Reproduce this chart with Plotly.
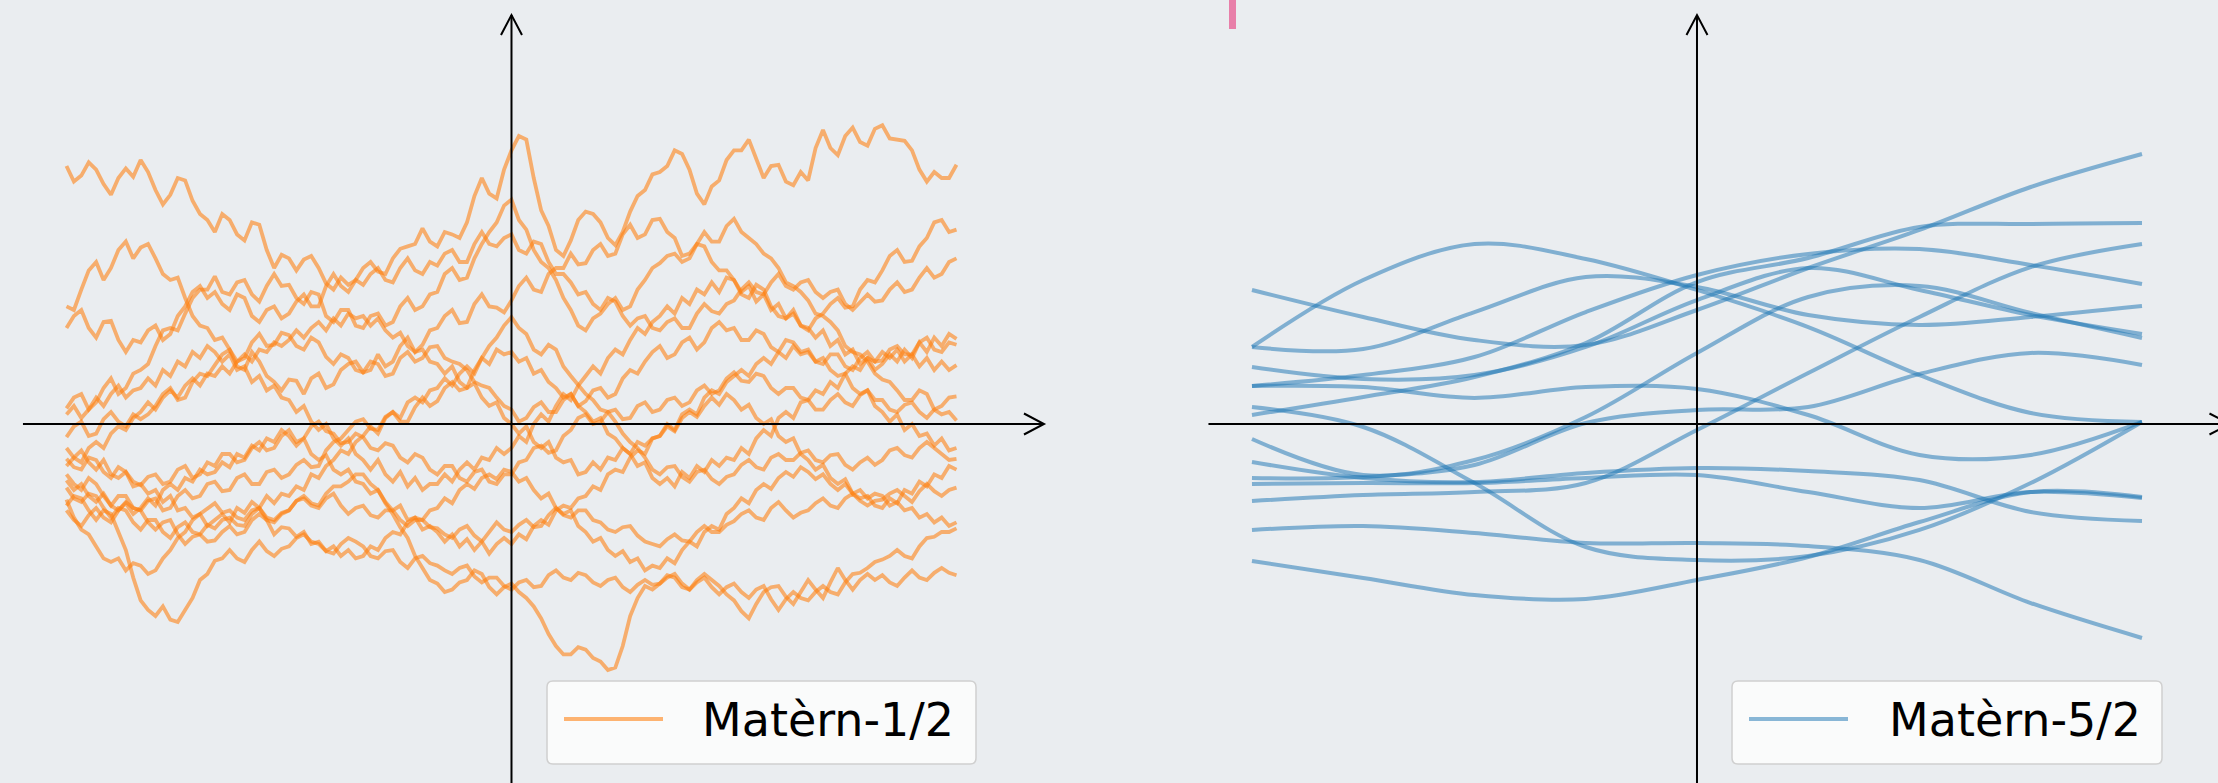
import numpy as np
import plotly.graph_objects as go

W, H = 2218, 783

# ---------------- data ----------------
# Matérn-1/2 sample paths (rough), evenly sampled on [-1, 1]
m12_p01 = [2.15, 2.02, 2.07, 2.18, 2.12, 2.0, 1.91, 2.05, 2.13, 2.06, 2.2, 2.1, 1.95, 1.83, 1.91, 2.05, 2.03, 1.86, 1.75, 1.7,
           1.6, 1.75, 1.7, 1.58, 1.53, 1.68, 1.66, 1.45, 1.3, 1.41, 1.38, 1.28, 1.37, 1.4, 1.3, 1.17, 1.12, 1.22, 1.16, 1.2,
           1.3, 1.35, 1.27, 1.25, 1.38, 1.46, 1.48, 1.5, 1.63, 1.52, 1.48, 1.6, 1.58, 1.55, 1.68, 1.9, 2.05, 1.92, 1.88, 2.12,
           2.28, 2.4, 2.37, 2.05, 1.78, 1.65, 1.45, 1.4, 1.53, 1.7, 1.77, 1.75, 1.68, 1.55, 1.49, 1.6, 1.77, 1.9, 1.95, 2.08,
           2.1, 2.15, 2.28, 2.25, 2.12, 1.92, 1.83, 1.98, 2.03, 2.2, 2.28, 2.28, 2.37, 2.2, 2.05, 2.15, 2.16, 2.02, 1.99, 2.1,
           2.03, 2.3, 2.45, 2.3, 2.24, 2.4, 2.47, 2.35, 2.32, 2.46, 2.49, 2.38, 2.37, 2.36, 2.28, 2.12, 2.02, 2.1, 2.05, 2.05, 2.16]
m12_p02 = [0.98, 0.95, 1.12, 1.28, 1.35, 1.2, 1.3, 1.45, 1.52, 1.38, 1.47, 1.5, 1.38, 1.25, 1.2, 1.22, 1.05, 0.9, 0.82, 0.8,
           0.7, 0.72, 0.62, 0.48, 0.45, 0.6, 0.52, 0.4, 0.35, 0.28, 0.37, 0.36, 0.25, 0.38, 0.42, 0.3, 0.33, 0.45, 0.5, 0.52,
           0.43, 0.45, 0.58, 0.48, 0.52, 0.65, 0.72, 0.6, 0.66, 0.78, 0.8, 0.9, 0.95, 0.84, 0.85, 1.0, 1.08, 0.98, 0.97, 0.93,
           1.03, 1.15, 1.22, 1.12, 1.1, 1.25, 1.3, 1.3, 1.42, 1.33, 1.34, 1.45, 1.5, 1.4, 1.42, 1.58, 1.66, 1.55, 1.58, 1.7,
           1.71, 1.6, 1.55, 1.4, 1.42, 1.5, 1.48, 1.35, 1.28, 1.28, 1.2, 1.08, 1.05, 1.16, 1.12, 0.98, 0.9, 0.88, 0.95, 0.82,
           0.78, 0.88, 0.92, 1.0, 1.05, 0.97, 0.98, 1.12, 1.2, 1.18, 1.28, 1.4, 1.45, 1.35, 1.36, 1.48, 1.55, 1.68, 1.7, 1.6, 1.62]
m12_p03 = [0.8, 0.9, 0.95, 0.8, 0.72, 0.85, 0.86, 0.7, 0.6, 0.7, 0.68, 0.78, 0.82, 0.7, 0.75, 0.9, 0.98, 1.1, 1.15, 1.05,
           1.1, 1.0, 0.95, 1.08, 1.05, 0.9, 0.85, 0.95, 0.98, 0.88, 0.92, 1.02, 1.08, 0.98, 0.98, 1.15, 1.25, 1.15, 1.1, 1.2,
           1.16, 1.25, 1.3, 1.2, 1.18, 1.3, 1.38, 1.28, 1.25, 1.35, 1.32, 1.42, 1.45, 1.35, 1.35, 1.5, 1.6, 1.5, 1.48, 1.55,
           1.58, 1.45, 1.42, 1.52, 1.5, 1.35, 1.25, 1.25, 1.18, 1.08, 1.1, 1.0, 0.95, 1.05, 1.02, 0.9, 0.82, 0.88, 0.9, 0.8,
           0.78, 0.85, 0.88, 0.8, 0.8, 0.92, 1.0, 0.94, 0.92, 1.0, 1.03, 1.12, 1.18, 1.1, 1.08, 1.18, 1.25, 1.15, 1.12, 1.18,
           1.2, 1.1, 1.05, 1.1, 1.12, 1.0, 0.95, 1.02, 1.08, 1.02, 1.03, 1.12, 1.18, 1.1, 1.12, 1.22, 1.3, 1.22, 1.25, 1.35, 1.38]
m12_p04 = [0.13, 0.22, 0.25, 0.12, 0.18, 0.3, 0.38, 0.25, 0.3, 0.42, 0.45, 0.5, 0.65, 0.78, 0.8, 0.78, 0.92, 1.05, 1.12, 1.12,
           1.23, 1.1, 1.08, 1.18, 1.2, 1.08, 1.02, 1.15, 1.25, 1.15, 1.16, 1.05, 1.0, 1.1, 1.08, 0.9, 0.85, 0.95, 0.95, 0.82,
           0.8, 0.9, 0.92, 0.82, 0.85, 0.98, 1.05, 0.95, 0.98, 1.08, 1.1, 1.25, 1.3, 1.2, 1.22, 1.38, 1.5, 1.6, 1.68, 1.82,
           1.87, 1.7, 1.62, 1.45, 1.35, 1.3, 1.2, 1.05, 0.95, 0.82, 0.78, 0.88, 0.92, 1.0, 1.05, 0.95, 0.98, 1.12, 1.2, 1.3,
           1.34, 1.4, 1.42, 1.35, 1.38, 1.5, 1.6, 1.52, 1.52, 1.65, 1.71, 1.6, 1.55, 1.5, 1.42, 1.38, 1.3, 1.18, 1.15, 1.1,
           1.03, 0.92, 0.9, 0.85, 0.78, 0.65, 0.6, 0.58, 0.52, 0.42, 0.37, 0.35, 0.28, 0.2, 0.2, 0.28, 0.25, 0.12, 0.08, 0.1, 0.03]
m12_p05 = [0.08, 0.15, 0.05, 0.12, 0.22, 0.15, 0.25, 0.32, 0.22, 0.28, 0.3, 0.38, 0.32, 0.45, 0.4, 0.52, 0.48, 0.6, 0.55, 0.65,
           0.6, 0.52, 0.58, 0.45, 0.48, 0.35, 0.4, 0.28, 0.32, 0.22, 0.2, 0.1, 0.15, 0.02, -0.05, 0.0, -0.12, -0.18, -0.12, -0.25,
           -0.3, -0.38, -0.3, -0.42, -0.48, -0.4, -0.52, -0.45, -0.55, -0.5, -0.5, -0.42, -0.48, -0.38, -0.32, -0.38, -0.28, -0.3, -0.2, -0.25,
           -0.2, -0.1, -0.15, 0.0, 0.08, 0.02, 0.15, 0.25, 0.2, 0.32, 0.4, 0.48, 0.42, 0.55, 0.62, 0.58, 0.7, 0.8, 0.75, 0.85,
           0.9, 0.98, 0.92, 1.05, 1.0, 1.12, 1.08, 1.18, 1.1, 1.22, 1.2, 1.1, 1.15, 1.02, 1.08, 0.95, 1.0, 0.88, 0.92, 0.82,
           0.8, 0.72, 0.78, 0.65, 0.7, 0.58, 0.62, 0.5, 0.55, 0.45, 0.5, 0.58, 0.52, 0.62, 0.55, 0.68, 0.6, 0.72, 0.65, 0.75, 0.71]
m12_p06 = [-0.11, -0.02, 0.02, -0.1, -0.08, 0.04, 0.1, 0.02, -0.02, 0.08, 0.04, 0.08, 0.15, 0.25, 0.3, 0.2, 0.22, 0.35, 0.42, 0.4,
           0.49, 0.58, 0.62, 0.52, 0.55, 0.68, 0.75, 0.65, 0.66, 0.76, 0.74, 0.65, 0.62, 0.72, 0.68, 0.56, 0.5, 0.58, 0.55, 0.45,
           0.43, 0.52, 0.5, 0.4, 0.42, 0.55, 0.6, 0.52, 0.55, 0.64, 0.65, 0.55, 0.52, 0.5, 0.45, 0.35, 0.32, 0.3, 0.22, 0.15,
           0.12, 0.02, 0.05, 0.14, 0.18, 0.1, 0.1, 0.2, 0.25, 0.15, 0.19, 0.28, 0.3, 0.22, 0.25, 0.38, 0.45, 0.42, 0.52, 0.6,
           0.65, 0.55, 0.58, 0.68, 0.72, 0.62, 0.68, 0.8, 0.85, 0.78, 0.8, 0.7, 0.7, 0.78, 0.75, 0.64, 0.6, 0.7, 0.68, 0.6,
           0.62, 0.52, 0.5, 0.58, 0.58, 0.48, 0.45, 0.55, 0.6, 0.52, 0.53, 0.62, 0.65, 0.58, 0.58, 0.68, 0.72, 0.62, 0.6, 0.68, 0.66]
m12_p07 = [-0.2, -0.28, -0.22, -0.32, -0.38, -0.3, -0.42, -0.45, -0.4, -0.52, -0.5, -0.58, -0.55, -0.65, -0.6, -0.72, -0.7, -0.78, -0.75, -0.85,
           -0.8, -0.75, -0.82, -0.7, -0.74, -0.65, -0.7, -0.6, -0.66, -0.58, -0.6, -0.52, -0.55, -0.42, -0.45, -0.35, -0.3, -0.22, -0.25, -0.15,
           -0.1, -0.02, -0.08, 0.05, 0.1, 0.05, 0.18, 0.22, 0.18, 0.28, 0.3, 0.38, 0.32, 0.42, 0.48, 0.42, 0.55, 0.5, 0.62, 0.58,
           0.6, 0.52, 0.55, 0.42, 0.45, 0.35, 0.3, 0.22, 0.25, 0.15, 0.1, 0.02, 0.05, -0.08, -0.12, -0.2, -0.25, -0.35, -0.32, -0.45,
           -0.5, -0.45, -0.52, -0.4, -0.45, -0.35, -0.4, -0.3, -0.35, -0.28, -0.3, -0.2, -0.25, -0.12, -0.05, -0.1, 0.05, 0.1, 0.05, 0.18,
           0.2, 0.28, 0.25, 0.35, 0.3, 0.42, 0.48, 0.45, 0.55, 0.52, 0.6, 0.55, 0.62, 0.52, 0.58, 0.48, 0.55, 0.45, 0.52, 0.45, 0.49]
m12_p08 = [-0.29, -0.36, -0.38, -0.28, -0.3, -0.4, -0.45, -0.36, -0.4, -0.48, -0.51, -0.44, -0.42, -0.5, -0.48, -0.38, -0.35, -0.45, -0.42, -0.32,
           -0.35, -0.25, -0.25, -0.32, -0.3, -0.2, -0.15, -0.22, -0.2, -0.1, -0.05, -0.15, -0.12, -0.02, 0.02, -0.06, -0.08, -0.16, -0.15, -0.08,
           -0.11, -0.2, -0.22, -0.16, -0.18, -0.28, -0.32, -0.25, -0.28, -0.38, -0.42, -0.35, -0.35, -0.45, -0.48, -0.4, -0.38, -0.48, -0.5, -0.42,
           -0.42, -0.32, -0.3, -0.2, -0.18, -0.24, -0.22, -0.1, -0.05, 0.05, 0.08, 0.0, 0.02, 0.1, 0.12, 0.04, 0.05, 0.15, 0.18, 0.1,
           0.12, 0.2, 0.22, 0.15, 0.18, 0.28, 0.32, 0.25, 0.28, 0.38, 0.43, 0.36, 0.35, 0.42, 0.4, 0.3, 0.25, 0.3, 0.3, 0.22,
           0.2, 0.12, 0.12, 0.2, 0.25, 0.18, 0.15, 0.24, 0.28, 0.2, 0.2, 0.12, 0.1, 0.16, 0.18, 0.1, 0.05, 0.12, 0.15, 0.22, 0.23]
m12_p09 = [-0.35, -0.28, -0.32, -0.2, -0.15, -0.2, -0.08, -0.02, -0.05, 0.05, 0.1, 0.18, 0.12, 0.22, 0.28, 0.22, 0.32, 0.38, 0.32, 0.42,
           0.4, 0.48, 0.42, 0.52, 0.58, 0.52, 0.62, 0.6, 0.68, 0.65, 0.7, 0.78, 0.72, 0.8, 0.85, 0.78, 0.88, 0.82, 0.92, 0.88,
           0.9, 0.82, 0.88, 0.78, 0.72, 0.76, 0.65, 0.6, 0.62, 0.52, 0.5, 0.42, 0.48, 0.35, 0.3, 0.34, 0.22, 0.15, 0.18, 0.05,
           0.0, -0.08, -0.02, -0.15, -0.2, -0.15, -0.28, -0.32, -0.3, -0.42, -0.4, -0.32, -0.38, -0.28, -0.3, -0.2, -0.25, -0.15, -0.18, -0.12,
           -0.1, 0.0, -0.05, 0.08, 0.12, 0.08, 0.22, 0.28, 0.25, 0.35, 0.4, 0.45, 0.4, 0.5, 0.55, 0.5, 0.6, 0.55, 0.65, 0.58,
           0.6, 0.52, 0.55, 0.45, 0.4, 0.42, 0.3, 0.25, 0.28, 0.15, 0.1, 0.02, 0.08, -0.05, 0.0, -0.1, -0.08, -0.18, -0.12, -0.22, -0.2]
m12_p10 = [-0.42, -0.5, -0.55, -0.45, -0.5, -0.6, -0.68, -0.6, -0.6, -0.7, -0.72, -0.64, -0.62, -0.72, -0.7, -0.6, -0.55, -0.62, -0.6, -0.5,
           -0.48, -0.56, -0.55, -0.45, -0.42, -0.5, -0.5, -0.4, -0.38, -0.45, -0.42, -0.34, -0.3, -0.36, -0.35, -0.22, -0.15, -0.12, -0.05, 0.02,
           0.04, -0.04, -0.05, 0.06, 0.1, 0.02, 0.02, 0.14, 0.22, 0.15, 0.19, 0.3, 0.35, 0.28, 0.3, 0.45, 0.55, 0.65, 0.72, 0.82,
           0.89, 0.8, 0.75, 0.62, 0.58, 0.66, 0.62, 0.48, 0.4, 0.32, 0.25, 0.2, 0.12, 0.1, 0.02, -0.08, -0.15, -0.2, -0.28, -0.38,
           -0.42, -0.36, -0.35, -0.44, -0.48, -0.4, -0.38, -0.46, -0.5, -0.44, -0.42, -0.34, -0.3, -0.36, -0.38, -0.28, -0.25, -0.3, -0.3, -0.24,
           -0.22, -0.3, -0.32, -0.26, -0.25, -0.34, -0.38, -0.32, -0.28, -0.34, -0.3, -0.22, -0.2, -0.26, -0.28, -0.2, -0.15, -0.2, -0.25, -0.3, -0.29]
m12_p11 = [-0.47, -0.55, -0.5, -0.6, -0.65, -0.58, -0.68, -0.72, -0.66, -0.75, -0.7, -0.62, -0.68, -0.55, -0.5, -0.55, -0.45, -0.48, -0.38, -0.42,
           -0.4, -0.32, -0.36, -0.25, -0.28, -0.18, -0.22, -0.12, -0.15, -0.05, -0.1, -0.18, -0.12, -0.25, -0.3, -0.26, -0.38, -0.42, -0.38, -0.48,
           -0.5, -0.58, -0.55, -0.65, -0.72, -0.68, -0.8, -0.78, -0.88, -0.85, -0.9, -0.98, -0.92, -1.02, -0.96, -1.05, -0.98, -1.08, -1.0, -0.95,
           -1.0, -0.92, -0.96, -0.85, -0.8, -0.84, -0.72, -0.68, -0.7, -0.62, -0.6, -0.52, -0.55, -0.42, -0.38, -0.4, -0.28, -0.22, -0.25, -0.12,
           -0.1, -0.02, -0.06, 0.05, 0.1, 0.06, 0.15, 0.22, 0.16, 0.25, 0.2, 0.12, 0.16, 0.05, 0.0, 0.04, -0.1, -0.15, -0.12, -0.25,
           -0.3, -0.38, -0.34, -0.45, -0.5, -0.46, -0.58, -0.62, -0.6, -0.68, -0.7, -0.62, -0.66, -0.55, -0.58, -0.48, -0.52, -0.42, -0.45, -0.35, -0.38]
m12_p12 = [-0.53, -0.62, -0.65, -0.58, -0.6, -0.7, -0.78, -0.7, -0.72, -0.82, -0.88, -0.8, -0.8, -0.9, -0.95, -0.86, -0.82, -0.9, -0.92, -0.84,
           -0.87, -0.8, -0.78, -0.84, -0.85, -0.75, -0.7, -0.78, -0.8, -0.74, -0.72, -0.64, -0.62, -0.68, -0.7, -0.62, -0.58, -0.68, -0.75, -0.7,
           -0.68, -0.76, -0.78, -0.72, -0.72, -0.8, -0.85, -0.8, -0.8, -0.86, -0.87, -0.92, -0.95, -0.88, -0.85, -0.93, -0.98, -0.9, -0.82, -0.88,
           -0.9, -0.84, -0.8, -0.86, -0.85, -0.76, -0.7, -0.76, -0.78, -0.72, -0.72, -0.8, -0.82, -0.88, -0.9, -0.86, -0.85, -0.93, -0.98, -1.0,
           -1.02, -0.96, -0.92, -0.97, -0.98, -0.9, -0.85, -0.9, -0.9, -0.84, -0.81, -0.75, -0.72, -0.78, -0.8, -0.7, -0.65, -0.72, -0.78, -0.74,
           -0.72, -0.66, -0.62, -0.68, -0.7, -0.62, -0.58, -0.64, -0.68, -0.64, -0.63, -0.58, -0.55, -0.6, -0.65, -0.56, -0.5, -0.56, -0.6, -0.55, -0.53]
m12_p13 = [-0.63, -0.78, -0.88, -0.92, -1.02, -1.12, -1.15, -1.12, -1.22, -1.16, -1.18, -1.25, -1.22, -1.12, -1.05, -0.95, -0.9, -0.8, -0.75, -0.7,
           -0.66, -0.74, -0.72, -0.78, -0.8, -0.72, -0.7, -0.8, -0.92, -0.86, -0.87, -0.94, -0.9, -1.0, -0.98, -1.06, -1.02, -1.1, -1.05, -1.12,
           -1.1, -1.02, -1.05, -0.95, -0.9, -0.92, -0.82, -0.78, -0.8, -0.72, -0.7, -0.62, -0.66, -0.55, -0.5, -0.54, -0.45, -0.42, -0.46, -0.38,
           -0.4, -0.48, -0.45, -0.55, -0.62, -0.58, -0.7, -0.75, -0.72, -0.85, -0.9, -0.98, -0.95, -1.05, -1.1, -1.06, -1.15, -1.12, -1.22, -1.18,
           -1.2, -1.12, -1.16, -1.05, -0.98, -1.02, -0.9, -0.85, -0.88, -0.75, -0.7, -0.62, -0.66, -0.55, -0.5, -0.54, -0.45, -0.4, -0.44, -0.36,
           -0.4, -0.46, -0.42, -0.5, -0.55, -0.5, -0.58, -0.55, -0.62, -0.58, -0.6, -0.68, -0.65, -0.72, -0.7, -0.78, -0.75, -0.82, -0.78, -0.85, -0.82]
m12_p14 = [-0.68, -0.6, -0.62, -0.72, -0.8, -0.72, -0.75, -0.9, -1.05, -1.28, -1.47, -1.55, -1.6, -1.52, -1.63, -1.65, -1.55, -1.45, -1.3, -1.25,
           -1.14, -1.12, -1.05, -1.12, -1.15, -1.05, -0.98, -1.06, -1.1, -1.04, -1.02, -0.95, -0.92, -0.98, -1.0, -1.06, -1.08, -1.0, -0.95, -0.98,
           -1.02, -1.1, -1.12, -1.06, -1.05, -1.15, -1.2, -1.12, -1.1, -1.16, -1.18, -1.22, -1.25, -1.2, -1.18, -1.27, -1.32, -1.28, -1.28, -1.35,
           -1.38, -1.32, -1.3, -1.36, -1.35, -1.26, -1.22, -1.28, -1.3, -1.24, -1.26, -1.32, -1.35, -1.3, -1.28, -1.36, -1.4, -1.34, -1.3, -1.34,
           -1.33, -1.28, -1.25, -1.33, -1.38, -1.32, -1.28, -1.36, -1.42, -1.36, -1.33, -1.4, -1.45, -1.38, -1.35, -1.46, -1.55, -1.46, -1.4, -1.45,
           -1.47, -1.4, -1.35, -1.4, -1.42, -1.32, -1.25, -1.24, -1.2, -1.15, -1.13, -1.1, -1.05, -1.1, -1.12, -1.02, -0.95, -0.94, -0.9, -0.9, -0.87]
m12_p15 = [-0.72, -0.8, -0.85, -0.76, -0.7, -0.78, -0.82, -0.72, -0.65, -0.7, -0.72, -0.82, -0.88, -0.82, -0.8, -0.92, -1.0, -0.94, -0.92, -0.98,
           -0.97, -0.9, -0.85, -0.92, -0.9, -0.8, -0.75, -0.8, -0.82, -0.75, -0.72, -0.64, -0.6, -0.66, -0.68, -0.58, -0.52, -0.52, -0.48, -0.42,
           -0.42, -0.5, -0.55, -0.66, -0.75, -0.86, -0.95, -1.1, -1.2, -1.3, -1.33, -1.4, -1.38, -1.32, -1.3, -1.22, -1.25, -1.36, -1.42, -1.36,
           -1.33, -1.4, -1.45, -1.52, -1.62, -1.75, -1.85, -1.92, -1.92, -1.86, -1.88, -1.95, -1.98, -2.05, -2.03, -1.85, -1.6, -1.45, -1.35, -1.38,
           -1.33, -1.26, -1.28, -1.36, -1.38, -1.3, -1.25, -1.3, -1.35, -1.42, -1.47, -1.56, -1.62, -1.5, -1.4, -1.36, -1.35, -1.44, -1.5, -1.4,
           -1.3, -1.38, -1.45, -1.32, -1.2, -1.3, -1.38, -1.3, -1.25, -1.3, -1.26, -1.32, -1.35, -1.28, -1.22, -1.28, -1.3, -1.24, -1.2, -1.24, -1.26]

matern12_paths = [m12_p01, m12_p02, m12_p03, m12_p04, m12_p05, m12_p06, m12_p07, m12_p08,
                  m12_p09, m12_p10, m12_p11, m12_p12, m12_p13, m12_p14, m12_p15]

# Matérn-5/2 sample paths (smooth)
x_smooth = [-1.0, -0.75, -0.5, -0.25, 0.0, 0.25, 0.5, 0.75, 1.0]
m52_a = [0.317, 0.408, 0.558, 0.933, 1.242, 1.417, 1.458, 1.325, 1.167]
m52_b = [1.117, 0.892, 0.700, 0.658, 0.950, 1.300, 1.617, 1.975, 2.250]
m52_c = [0.075, 0.225, 0.392, 0.675, 1.183, 1.383, 1.642, 1.667, 1.675]
m52_d = [0.475, 0.375, 0.408, 0.642, 1.033, 1.300, 1.117, 0.908, 0.750]
m52_e = [0.642, 0.625, 0.933, 1.225, 1.142, 0.908, 0.825, 0.892, 0.983]
m52_f = [-0.125, -0.425, -0.300, 0.058, 0.592, 1.058, 1.150, 0.925, 0.717]
m52_g = [0.317, 0.308, 0.217, 0.308, 0.292, 0.075, -0.258, -0.258, 0.017]
m52_h = [-0.450, -0.442, -0.342, 0.008, 0.117, 0.142, 0.417, 0.592, 0.492]
m52_i = [-0.642, -0.592, -0.567, -0.492, -0.050, 0.425, 0.892, 1.308, 1.500]
m52_j = [0.642, 1.200, 1.500, 1.375, 1.117, 0.808, 0.408, 0.092, 0.017]
m52_k = [-0.317, -0.450, -0.483, -0.408, -0.367, -0.392, -0.467, -0.733, -0.808]
m52_l = [-0.500, -0.492, -0.492, -0.450, -0.425, -0.567, -0.700, -0.567, -0.617]
m52_m = [-0.883, -0.850, -0.908, -0.992, -0.992, -1.017, -1.133, -1.492, -1.783]
m52_n = [0.142, -0.025, -0.492, -1.025, -1.133, -1.100, -0.883, -0.492, 0.017]
m52_o = [-1.142, -1.283, -1.425, -1.458, -1.300, -1.108, -0.817, -0.567, -0.608]

matern52_paths = [m52_a, m52_b, m52_c, m52_d, m52_e, m52_f, m52_g, m52_h,
                  m52_i, m52_j, m52_k, m52_l, m52_m, m52_n, m52_o]

legend_labels = ["Matèrn-1/2", "Matèrn-5/2"]

# ---------------- style ----------------
ORANGE = "rgba(255,127,14,0.58)"
BLUE = "rgba(31,119,180,0.52)"
BG = "#eaedf0"
FONT = "DejaVu Sans"

fig = go.Figure()

for ys in matern12_paths:
    xs = np.linspace(-1.0, 1.0, len(ys))
    fig.add_trace(go.Scatter(x=xs, y=ys, mode="lines", xaxis="x", yaxis="y",
                             line=dict(color=ORANGE, width=3.8), showlegend=False, hoverinfo="skip"))

for ys in matern52_paths:
    fig.add_trace(go.Scatter(x=x_smooth, y=ys, mode="lines", xaxis="x2", yaxis="y2",
                             line=dict(color=BLUE, width=4, shape="spline", smoothing=1.0),
                             showlegend=False, hoverinfo="skip"))

# axis ranges: 445 px per x unit, 120 px per y unit
x1_range = [-1.1494, 1.3427]
x2_range = [-1.3213, 1.1708]
y_range = [-2.9917, 3.5333]

hidden = dict(visible=False, showgrid=False, zeroline=False, fixedrange=True)
fig.update_layout(
    width=W, height=H, autosize=False,
    margin=dict(l=0, r=0, t=0, b=0, pad=0),
    paper_bgcolor=BG, plot_bgcolor="rgba(0,0,0,0)",
    xaxis=dict(domain=[0.0, 0.5], range=x1_range, anchor="y", **hidden),
    yaxis=dict(domain=[0.0, 1.0], range=y_range, anchor="x", **hidden),
    xaxis2=dict(domain=[0.5, 1.0], range=x2_range, anchor="y2", **hidden),
    yaxis2=dict(domain=[0.0, 1.0], range=y_range, anchor="x2", **hidden),
    showlegend=False,
)

shapes = []

# arrowed axes through the origin of each panel
def axes_with_arrows(xr, yr, x_lo, x_hi, y_lo, y_hi):
    ax = dict(color="black", width=2)
    out = [
        dict(type="line", xref=xr, yref=yr, x0=x_lo, x1=x_hi, y0=0, y1=0, line=ax, layer="above"),
        dict(type="line", xref=xr, yref=yr, x0=0, x1=0, y0=y_lo, y1=y_hi, line=ax, layer="above"),
    ]
    hx, hy = 20 / 445, 10.5 / 120    # head along x axis
    vx, vy = 10.5 / 445, 20 / 120    # head along y axis
    out.append(dict(type="path", xref=xr, yref=yr, layer="above", line=ax,
                    path=f"M {x_hi - hx},{hy} L {x_hi},0 L {x_hi - hx},{-hy}"))
    out.append(dict(type="path", xref=xr, yref=yr, layer="above", line=ax,
                    path=f"M {-vx},{y_hi - vy} L 0,{y_hi} L {vx},{y_hi - vy}"))
    return out

shapes += axes_with_arrows("x", "y", -1.0978, 1.1966, -3.1, 3.408)
shapes += axes_with_arrows("x2", "y2", -1.0978, 1.1966, -3.1, 3.408)

# legend boxes drawn in paper space
def px(xp):
    return xp / W

def py(yp):
    return 1 - yp / H

def rounded_box(x0, y0, x1, y1, r=6):
    rx, ry = r / W, r / H
    X0, X1, Yt, Yb = px(x0), px(x1), py(y0), py(y1)
    return (f"M {X0 + rx},{Yt} L {X1 - rx},{Yt} Q {X1},{Yt} {X1},{Yt - ry} "
            f"L {X1},{Yb + ry} Q {X1},{Yb} {X1 - rx},{Yb} L {X0 + rx},{Yb} "
            f"Q {X0},{Yb} {X0},{Yb + ry} L {X0},{Yt - ry} Q {X0},{Yt} {X0 + rx},{Yt} Z")

annotations = []
for (bx0, bx1, lx0, lx1, tx, color, label) in [
    (547, 976, 564, 663, 700, ORANGE, legend_labels[0]),
    (1732, 2162, 1749, 1848, 1887, BLUE, legend_labels[1]),
]:
    shapes.append(dict(type="path", xref="paper", yref="paper", layer="above",
                       path=rounded_box(bx0, 681, bx1, 764),
                       fillcolor="rgba(252,252,252,0.9)", line=dict(color="#d0d0d0", width=1.5)))
    shapes.append(dict(type="line", xref="paper", yref="paper", layer="above",
                       x0=px(lx0), x1=px(lx1), y0=py(719), y1=py(719),
                       line=dict(color=color, width=4)))
    annotations.append(dict(xref="paper", yref="paper", x=px(tx), y=py(720),
                            xanchor="left", yanchor="middle", showarrow=False,
                            text=label, font=dict(family=FONT, size=46, color="black")))

# small pink tick at the top edge
shapes.append(dict(type="rect", xref="paper", yref="paper", layer="above",
                   x0=px(1229), x1=px(1236), y0=py(29), y1=1.0,
                   fillcolor="#e87fa9", line=dict(width=0)))

fig.update_layout(shapes=shapes, annotations=annotations)

fig.write_html("out.html", config={"displayModeBar": False})
